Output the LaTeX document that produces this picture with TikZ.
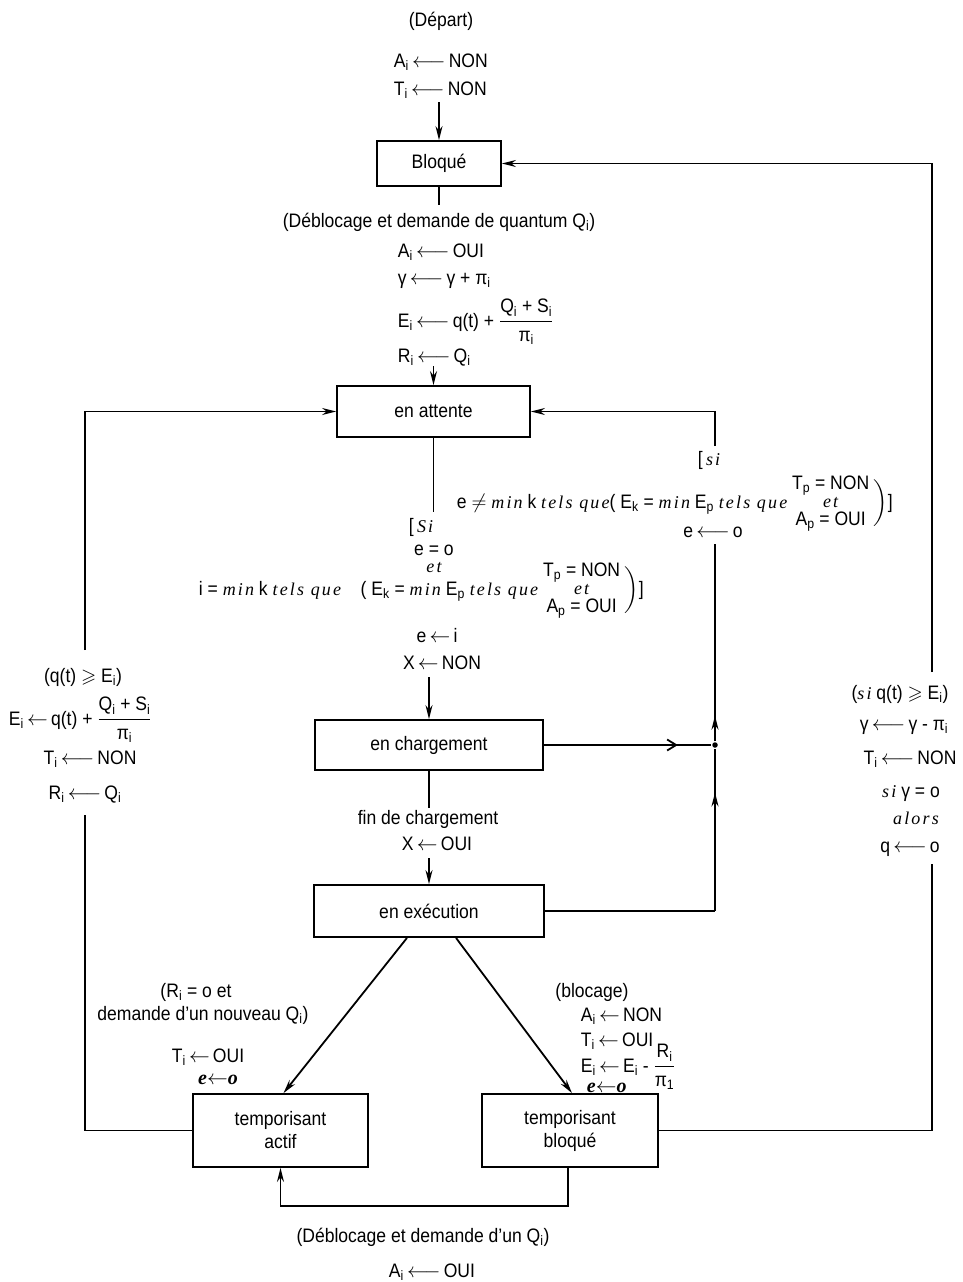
\documentclass[tikz,border=0pt]{standalone}
\usepackage{amssymb}
\usepackage{fontspec}
\setmainfont{Liberation Sans}[FakeStretch=0.9]
\newfontfamily\serifit{Liberation Serif}[LetterSpace=12]
\newfontfamily\handfont{Liberation Serif}
\usetikzlibrary{arrows.meta,decorations.markings}
\newcommand{\Ar}{\,$\longleftarrow$\,}
\newcommand{\Sr}{\,$\leftarrow$\,}
\newcommand{\ix}[1]{\textsubscript{#1}}
\newcommand{\mi}[1]{{\serifit\itshape\fontsize{18}{21}\selectfont #1}}
\newcommand{\fr}[2]{$\displaystyle\frac{\hbox{#1}}{\hbox{#2}}$}
\newcommand{\stk}[2]{\begin{tabular}{@{}c@{}}#1\\[-5pt]\mi{et}\\[-5pt]#2\end{tabular}}
\newcommand{\bigclose}{$\left.\vrule height 24pt depth 18pt width 0pt\right)$}
\newcommand{\hw}{{\handfont\bfseries\itshape\fontsize{20}{22}\selectfont e$\leftarrow$o}}
\begin{document}
\begin{tikzpicture}[x=1pt,y=-1pt,font=\fontsize{19.5}{23}\selectfont,line width=1.8pt,
  box/.style={draw,inner sep=2pt,align=center},
  t/.style={inner sep=0,anchor=base},
  tw/.style={inner sep=0,anchor=base west},
  arr/.style={-{Stealth[length=14pt,width=7pt]}},
  midarr/.style={postaction={decorate},decoration={markings,mark=at position #1 with {\arrow{Stealth[length=14pt,width=7pt]}}}},
  openarr/.style={postaction={decorate},decoration={markings,mark=at position #1 with {\arrow{Straight Barb[length=9pt,width=11pt]}}}},
  jdot/.style={circle,fill,inner sep=0,minimum size=5.5pt}]
\useasboundingbox (0,0) rectangle (963,1282);

% boxes
\node[box,minimum width=124pt,minimum height=45pt] (bloque) at (439,163.5) {Bloqué};
\node[box,minimum width=193pt,minimum height=51pt] (attente) at (433.5,411.5) {en attente};
\node[box,minimum width=228pt,minimum height=50pt] (charg) at (429,745) {en chargement};
\node[box,minimum width=230pt,minimum height=52pt] (exec) at (429,911) {en exécution};
\node[box,minimum width=175pt,minimum height=73pt] (tactif) at (280.5,1130.5) {temporisant\\actif};
\node[box,minimum width=176pt,minimum height=73pt] (tbloq) at (570,1130.5) {temporisant\\bloqué};

% top labels
\node[t] (ldep) at (441,27) {(Départ)};
\node[tw] (ldepA) at (393,67) {A\ix{i}\Ar NON};
\node[tw] (ldepT) at (393,95) {T\ix{i}\Ar NON};

% deblocage labels
\node[t] (ldeb) at (439,227) {(Déblocage et demande de quantum Q\ix{i})};
\node[tw] (ldebA) at (397,257) {A\ix{i}\Ar OUI};
\node[tw] (ldebG) at (397,284) {γ\Ar γ + π\ix{i}};
\node[tw] (ldebE) at (397,327) {E\ix{i}\Ar q(t) + \fr{Q\ix{i} + S\ix{i}}{π\ix{i}}};
\node[tw] (ldebR) at (397,362) {R\ix{i}\Ar Q\ix{i}};

% right condition (en attente loop)
\node[tw] (rsi) at (697,465) {[\,\mi{si}};
\node[tw] (rmain) at (456,508) {e $\neq$ \mi{min} k \mi{tels que}( E\ix{k} = \mi{min} E\ix{p} \mi{tels que}\ \stk{T\ix{p} = NON}{A\ix{p} = OUI}\,\bigclose]};
\node[t] (reo) at (713,537) {e\Ar o};

% Si block
\node[tw] (ssi) at (408,532) {[\,\mi{Si}};
\node[t] (seo) at (434,555) {e = o};
\node[t] (set) at (434,572) {\mi{et}};
\node[tw] (smain) at (198,595) {i = \mi{min} k \mi{tels que}\quad( E\ix{k} = \mi{min} E\ix{p} \mi{tels que}\ \stk{T\ix{p} = NON}{A\ix{p} = OUI}\,\bigclose]};
\node[t] (sei) at (437,642) {e\Sr i};
\node[t] (sxn) at (442,669) {X\Sr NON};

% fin de chargement
\node[t] (lfin) at (428,824) {fin de chargement};
\node[t] (lxo) at (437,850) {X\Sr OUI};

% left loop labels
\node[t] (lq) at (83,682) {(q(t) $\geqslant$ E\ix{i})};
\node[tw] (lE) at (8,725) {E\ix{i}\Sr q(t) + \fr{Q\ix{i} + S\ix{i}}{π\ix{i}}};
\node[t] (lT) at (90,764) {T\ix{i}\Ar NON};
\node[t] (lR) at (85,799) {R\ix{i}\Ar Q\ix{i}};

% right loop labels
\node[t] (rq) at (900,699) {(\mi{si} q(t) $\geqslant$ E\ix{i})};
\node[t] (rg) at (904,730) {γ\Ar γ - π\ix{i}};
\node[t] (rT) at (910,764) {T\ix{i}\Ar NON};
\node[t] (rsg) at (911,797) {\mi{si} γ = o};
\node[t] (ral) at (916,824) {\mi{alors}};
\node[t] (rqo) at (910,852) {q\Ar o};

% temporisant actif labels
\node[t] (aR) at (196,997) {(R\ix{i} = o et};
\node[t] (aD) at (203,1020) {demande d'un nouveau Q\ix{i})};
\node[t] (aT) at (208,1062) {T\ix{i}\Sr OUI};
\node[t] (aE) at (218,1084) {\hw};

% temporisant bloque labels
\node[t] (bB) at (592,997) {(blocage)};
\node[tw] (bA) at (580,1021) {A\ix{i}\Sr NON};
\node[tw] (bT) at (580,1046) {T\ix{i}\Sr OUI};
\node[tw] (bE) at (580,1072) {E\ix{i}\Sr E\ix{i} - \fr{R\ix{i}}{π\ix{1}}};
\node[tw] (bH) at (586,1092) {\hw};

% bottom labels
\node[t] (lbot) at (423,1242) {(Déblocage et demande d'un Q\ix{i})};
\node[t] (lbotA) at (432,1277) {A\ix{i}\Ar OUI};

% connectors
\coordinate (depE) at (439,102);
\draw[arr] (depE) -- (bloque.north);
\coordinate (debA) at (439,205);
\draw (bloque.south) -- (debA);
\coordinate (debB) at (433.5,366);
\draw[arr] (debB) -- (attente.north);
\coordinate (attB) at (433.5,512);
\draw (attente.south) -- (attB);
\coordinate (siB) at (429,677);
\draw[arr] (siB) -- (charg.north);
\coordinate (chB) at (429,808);
\draw (charg.south) -- (chB);
\coordinate (exA) at (429,858);
\draw[arr] (exA) -- (exec.north);
\draw[arr] ([xshift=-22pt]exec.south) -- ([xshift=3pt]tactif.north);
\draw[arr] ([xshift=27pt]exec.south) -- ([xshift=2pt]tbloq.north);
\draw[arr] ([xshift=-2pt]tbloq.south) -- ++(0,38) -| (tactif.south);

% left loop
\coordinate (lA) at (85,815);
\coordinate (lB) at (85,650);
\draw (tactif.west) -| (lA);
\draw[arr] (lB) |- (attente.west);

% right loop
\coordinate (rA) at (932,864);
\coordinate (rB) at (932,672);
\draw (tbloq.east) -| (rA);
\draw[arr] (rB) |- (bloque.east);

% junction
\node[jdot] (J) at (715,745) {};
\draw[openarr=0.8] (charg.east) -- (J);
\coordinate (exR) at (715,911);
\draw (exec.east) -- (exR);
\draw[midarr=0.73] (exR) -- (J);
\coordinate (jT) at (715,544);
\draw[midarr=0.13] (J) -- (jT);
\coordinate (jU) at (715,446);
\draw[arr] (jU) |- (attente.east);
\end{tikzpicture}
\end{document}
